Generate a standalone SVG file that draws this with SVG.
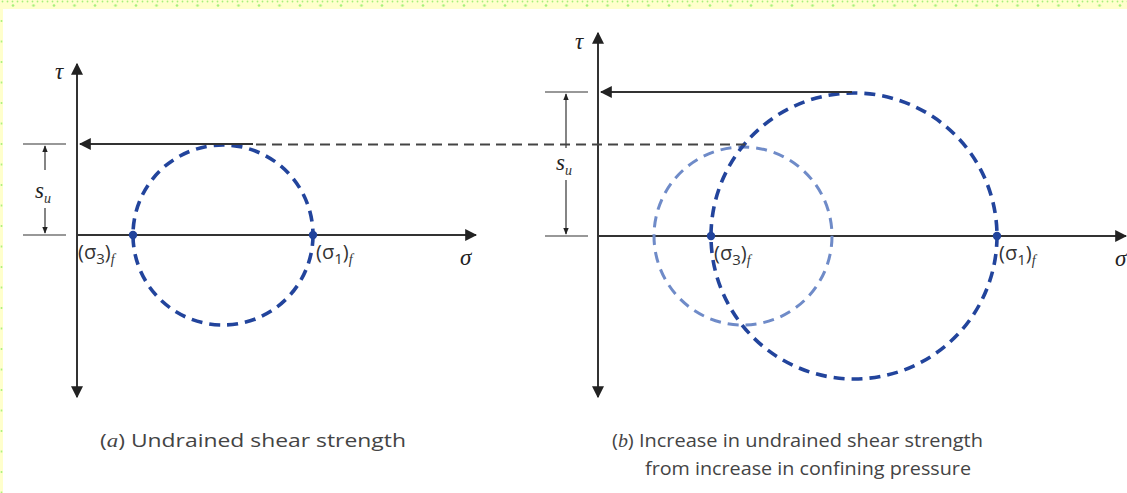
<svg xmlns="http://www.w3.org/2000/svg" width="1127" height="493" viewBox="0 0 1127 493">
<style>
.ax{stroke:#333;stroke-width:2;fill:none}
.thin{stroke:#333;stroke-width:1.2;fill:none}
.dash{stroke:#444;stroke-width:1.8;fill:none;stroke-dasharray:10 6}
.c1{stroke:#22449c;stroke-width:3.6;fill:none;stroke-dasharray:11 7}
.c2{stroke:#6f8bc8;stroke-width:3;fill:none;stroke-dasharray:11 7}
.dot{fill:#22449c}
.lab{font-family:"Open Sans","Liberation Sans",sans-serif;font-size:20px;fill:#333}
.gr{font-family:"Liberation Serif",serif;font-style:italic;font-size:23px;fill:#222}
.sub{font-family:"Liberation Serif",serif;font-style:italic;font-size:14px;fill:#333}
.cap{font-family:"Open Sans","Liberation Sans",sans-serif;font-size:19px;fill:#444}
</style>
<defs>
<marker id="ah" viewBox="0 0 10 10" refX="9" refY="5" markerWidth="12" markerHeight="12" markerUnits="userSpaceOnUse" orient="auto-start-reverse">
<path d="M0,0 L10,5 L0,10 Z" fill="#222"/>
</marker>
<marker id="sh" viewBox="0 0 10 10" refX="9" refY="5" markerWidth="7" markerHeight="7" markerUnits="userSpaceOnUse" orient="auto-start-reverse">
<path d="M0,1 L10,5 L0,9 Z" fill="#222"/>
</marker>
<pattern id="p1" x="0" y="0" width="5" height="4" patternUnits="userSpaceOnUse"><circle cx="2.5" cy="1.5" r="0.9" fill="#a6f07a"/></pattern>
<pattern id="p2" x="13" y="0" width="20.5" height="9" patternUnits="userSpaceOnUse"><circle cx="0" cy="5.5" r="1.3" fill="#a6f07a"/><circle cx="20.5" cy="5.5" r="1.3" fill="#a6f07a"/></pattern>
<pattern id="p3" x="0" y="0.5" width="3" height="20.5" patternUnits="userSpaceOnUse"><circle cx="1.5" cy="0" r="1" fill="#a6f07a"/><circle cx="1.5" cy="20.5" r="1" fill="#a6f07a"/></pattern>
</defs>
<rect width="1127" height="493" fill="#ffffff"/>
<g id="frame">
<rect x="0" y="0" width="1127" height="9" fill="#ffffcc"/>
<rect x="0" y="0" width="3" height="493" fill="#ffffcc"/>
<rect x="0" y="0" width="1127" height="4" fill="url(#p1)"/>
<rect x="0" y="0" width="1127" height="9" fill="url(#p2)"/>
<rect x="0" y="9" width="3" height="484" fill="url(#p3)"/>
</g>

<g id="panel-a">
<line class="ax" x1="77" y1="397" x2="77" y2="64" marker-start="url(#ah)" marker-end="url(#ah)"/>
<line class="ax" x1="77" y1="235" x2="476" y2="235" marker-end="url(#ah)"/>
<text class="gr" x="55" y="79">τ</text>
<text class="gr" x="460" y="265">σ</text>
<circle class="c1" cx="223" cy="235" r="90"/>
<circle class="dot" cx="133" cy="235" r="4.2"/>
<circle class="dot" cx="313" cy="235" r="4.2"/>
<text class="lab" x="78" y="259">(σ<tspan font-size="15" dy="5">3</tspan><tspan dy="-5">)</tspan><tspan class="sub" dy="5">f</tspan></text>
<text class="lab" x="316" y="259">(σ<tspan font-size="15" dy="5">1</tspan><tspan dy="-5">)</tspan><tspan class="sub" dy="5">f</tspan></text>
<line class="thin" x1="23" y1="144" x2="66" y2="144"/>
<line class="thin" x1="23" y1="235" x2="66" y2="235"/>
<line class="thin" x1="45" y1="170" x2="45" y2="146" marker-end="url(#sh)"/>
<line class="thin" x1="45" y1="208" x2="45" y2="233" marker-end="url(#sh)"/>
<text class="gr" x="35" y="198" font-size="20">s<tspan class="sub" font-size="15" dy="5">u</tspan></text>
<text class="cap" x="100" y="447" textLength="306" lengthAdjust="spacingAndGlyphs">(<tspan font-style="italic" font-family="Liberation Serif,serif">a</tspan>) Undrained shear strength</text>
</g>

<g id="panel-b">
<line class="ax" x1="598" y1="397" x2="598" y2="33" marker-start="url(#ah)" marker-end="url(#ah)"/>
<line class="ax" x1="598" y1="236" x2="1126" y2="236" marker-end="url(#ah)"/>
<text class="gr" x="575" y="49">τ</text>
<text class="gr" x="1115" y="266">σ</text>
<circle class="c2" cx="743" cy="236" r="89"/>
<circle class="c1" cx="854" cy="236" r="143"/>
<circle class="dot" cx="711" cy="236" r="4.2"/>
<circle class="dot" cx="997" cy="236" r="4.2"/>
<text class="lab" x="714" y="260">(σ<tspan font-size="15" dy="5">3</tspan><tspan dy="-5">)</tspan><tspan class="sub" dy="5">f</tspan></text>
<text class="lab" x="999" y="260">(σ<tspan font-size="15" dy="5">1</tspan><tspan dy="-5">)</tspan><tspan class="sub" dy="5">f</tspan></text>
<line class="thin" x1="545" y1="92" x2="588" y2="92"/>
<line class="thin" x1="545" y1="236" x2="588" y2="236"/>
<line class="thin" x1="566" y1="148" x2="566" y2="94" marker-end="url(#sh)"/>
<line class="thin" x1="566" y1="180" x2="566" y2="234" marker-end="url(#sh)"/>
<text class="gr" x="556" y="170" font-size="20">s<tspan class="sub" font-size="15" dy="5">u</tspan></text>
<text class="cap" x="612" y="447" textLength="371" lengthAdjust="spacingAndGlyphs">(<tspan font-style="italic" font-family="Liberation Serif,serif">b</tspan>) Increase in undrained shear strength</text>
<text class="cap" x="645" y="475" textLength="326" lengthAdjust="spacingAndGlyphs">from increase in confining pressure</text>
</g>

<g id="connectors">
<line class="ax" x1="253" y1="144" x2="80" y2="144" marker-end="url(#ah)"/>
<line class="dash" x1="256" y1="144.5" x2="745" y2="144.5"/>
<line class="ax" x1="852" y1="92" x2="601" y2="92" marker-end="url(#ah)"/>
</g>
</svg>
